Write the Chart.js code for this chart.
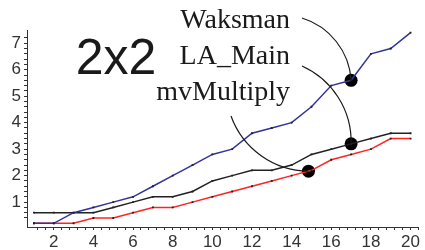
<!DOCTYPE html>
<html>
<head>
<meta charset="utf-8">
<script src="https://cdn.jsdelivr.net/npm/chart.js@4.4.0/dist/chart.umd.min.js"></script>
<style>
  html, body { margin: 0; padding: 0; background: #fff; }
  #wrap { width: 425px; height: 250px; }
</style>
</head>
<body>
<div id="wrap"><canvas id="chart" width="425" height="250"></canvas></div>
<script>
// ---- data ----
const steps      = [1, 2, 3, 4, 5, 6, 7, 8, 9, 10, 11, 12, 13, 14, 15, 16, 17, 18, 19, 20];
const waksman    = [0.2, 0.2, 0.6, 0.8, 1.0, 1.2, 1.6, 2.0, 2.4, 2.8, 3.0, 3.6, 3.8, 4.0, 4.6, 5.4, 5.6, 6.6, 6.8, 7.4];
const laMain     = [0.6, 0.6, 0.6, 0.6, 0.8, 1.0, 1.2, 1.2, 1.4, 1.8, 2.0, 2.2, 2.2, 2.4, 2.8, 3.0, 3.2, 3.4, 3.6, 3.6];
const mvMultiply = [0.2, 0.2, 0.2, 0.4, 0.4, 0.6, 0.8, 0.8, 1.0, 1.2, 1.4, 1.6, 1.8, 2.0, 2.2, 2.6, 2.8, 3.0, 3.4, 3.4];

const title      = '2x2';
const labelNames = ['Waksman', 'LA_Main', 'mvMultiply'];
// where each label's leader curve lands on its series
const markerX    = [17, 17, 14.85];
const markerY    = [5.6, 3.2, 2.17];

const toPoints = (xs, ys) => xs.map((x, i) => ({ x: x, y: ys[i] }));

// keep only ticks on a multiple of step
const keepMultiples = step => scale => {
    scale.ticks = scale.ticks.filter(t => {
        const k = t.value / step;
        return Math.abs(k - Math.round(k)) < 1e-6;
    });
};

// circle arc through three points
function arcThrough(ctx, p0, p1, p2) {
    const [ax, ay] = p0, [bx, by] = p1, [cx, cy] = p2;
    const d = 2 * (ax * (by - cy) + bx * (cy - ay) + cx * (ay - by));
    const ux = ((ax*ax + ay*ay) * (by - cy) + (bx*bx + by*by) * (cy - ay) + (cx*cx + cy*cy) * (ay - by)) / d;
    const uy = ((ax*ax + ay*ay) * (cx - bx) + (bx*bx + by*by) * (ax - cx) + (cx*cx + cy*cy) * (bx - ax)) / d;
    const r = Math.hypot(ax - ux, ay - uy);
    const cross = (bx - ax) * (cy - ay) - (by - ay) * (cx - ax);
    ctx.beginPath();
    ctx.arc(ux, uy, r, Math.atan2(ay - uy, ax - ux), Math.atan2(cy - uy, cx - ux), cross < 0);
    ctx.stroke();
}

const annotations = {
    id: 'annotations',
    afterDatasetsDraw(chart) {
        const { ctx, scales: { x, y } } = chart;
        ctx.save();
        ctx.fillStyle = '#1a1a1a';
        ctx.font = '50px "Liberation Sans", Arial, sans-serif';
        ctx.textAlign = 'center';
        ctx.fillText(title, 116, 74);

        ctx.font = '28px "Liberation Serif", "Times New Roman", serif';
        ctx.textAlign = 'right';
        labelNames.forEach((name, i) => ctx.fillText(name, 290, 28 + i * 36));

        // leader curves: start near the label, bend, land on the marker
        const starts = [[302, 18], [302, 66], [231, 116]];
        const mids   = [[342, 50], [333, 90], [263, 157]];
        ctx.strokeStyle = '#1a1a1a';
        ctx.lineWidth = 1.2;
        markerX.forEach((mx, i) => {
            const end = [x.getPixelForValue(mx), y.getPixelForValue(markerY[i])];
            arcThrough(ctx, starts[i], mids[i], end);
        });
        ctx.restore();
    }
};

const lineStyle = color => ({
    borderColor: color,
    borderWidth: 1.5,
    pointStyle: 'rect',
    pointRadius: 1.3,
    pointBackgroundColor: '#222',
    pointBorderWidth: 0,
    tension: 0,
    fill: false
});

new Chart(document.getElementById('chart'), {
    type: 'line',
    data: {
        datasets: [
            { label: labelNames[0], data: toPoints(steps, waksman), ...lineStyle('#33339c') },
            { label: labelNames[1], data: toPoints(steps, laMain), ...lineStyle('#222222') },
            { label: labelNames[2], data: toPoints(steps, mvMultiply), ...lineStyle('#ff2424') },
            {
                label: 'markers',
                data: toPoints(markerX, markerY),
                showLine: false,
                pointStyle: 'circle',
                pointRadius: 6.5,
                pointBackgroundColor: '#000',
                pointBorderWidth: 0
            }
        ]
    },
    options: {
        responsive: false,
        animation: false,
        layout: { padding: { top: 30, right: 3, left: 0, bottom: 0 } },
        plugins: {
            legend: { display: false },
            tooltip: { enabled: false }
        },
        scales: {
            x: {
                type: 'linear',
                min: 0.65,
                max: 20.4,
                afterBuildTicks: keepMultiples(0.4),
                afterFit: s => { s.height = 23; },
                border: { color: '#333', width: 1 },
                grid: { drawOnChartArea: false, tickLength: 3, tickColor: '#333' },
                ticks: {
                    stepSize: 0.4,
                    autoSkip: false,
                    maxRotation: 0,
                    padding: 2,
                    color: '#333',
                    font: { family: '"Liberation Sans", Arial, sans-serif', size: 17 },
                    callback: v => (Math.abs(v % 2) < 1e-6 || Math.abs(v % 2 - 2) < 1e-6) ? Math.round(v) : ''
                }
            },
            y: {
                min: 0.06,
                max: 7.5,
                afterBuildTicks: keepMultiples(0.2),
                afterFit: s => { s.width = 27; },
                border: { color: '#333', width: 1 },
                grid: { drawOnChartArea: false, tickLength: 3, tickColor: '#333' },
                ticks: {
                    stepSize: 0.2,
                    autoSkip: false,
                    padding: 3,
                    color: '#333',
                    font: { family: '"Liberation Sans", Arial, sans-serif', size: 17 },
                    callback: v => Math.abs(v - Math.round(v)) < 1e-6 ? Math.round(v) : ''
                }
            }
        }
    },
    plugins: [annotations]
});
</script>
</body>
</html>
